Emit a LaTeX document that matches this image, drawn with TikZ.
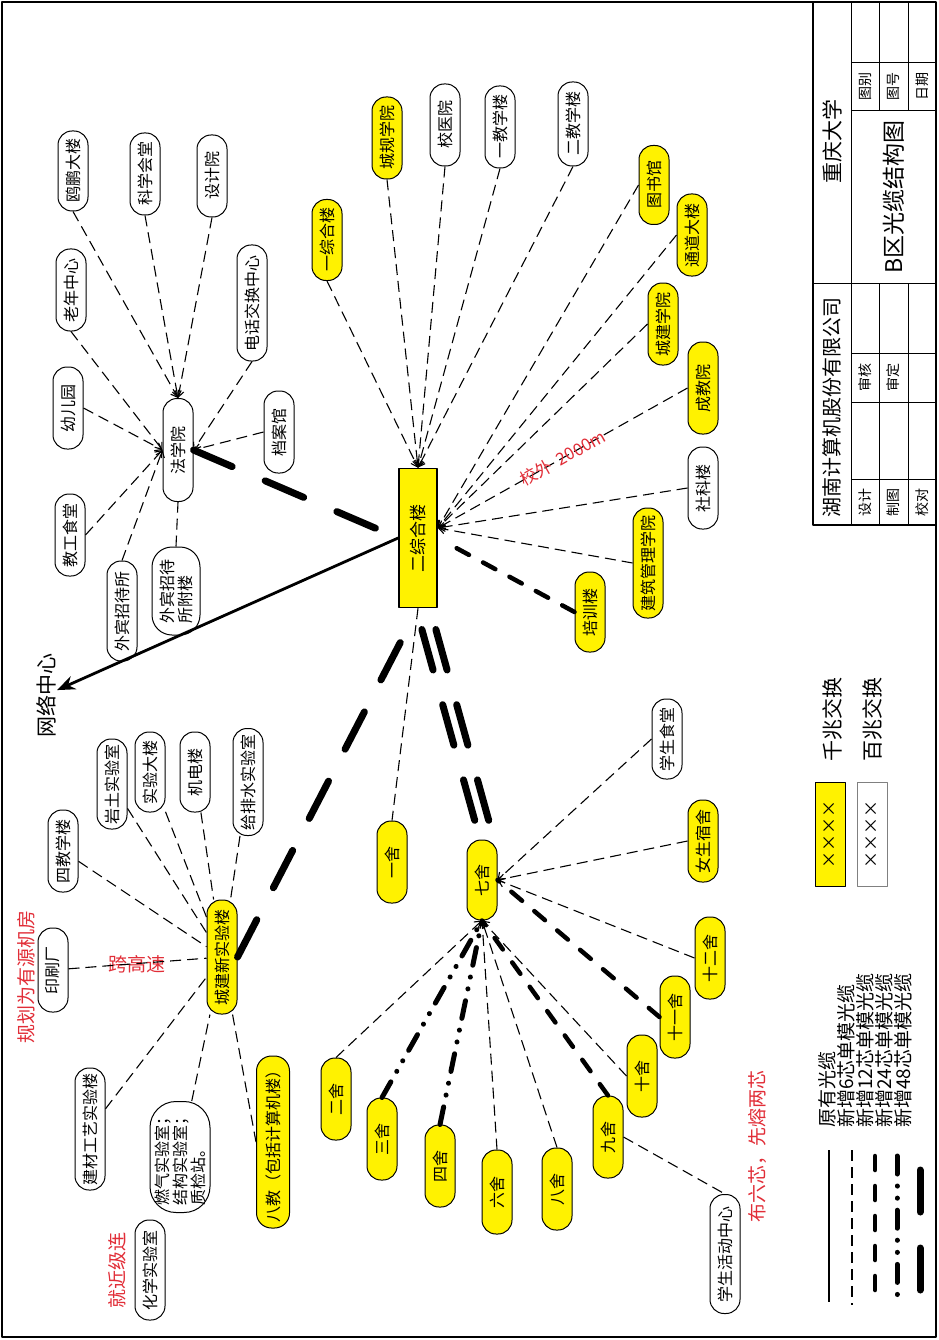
\documentclass[tikz,border=0pt]{standalone}
\usepackage{fontspec}
\newfontfamily\cjk{Noto Sans CJK SC}
\usetikzlibrary{arrows.meta}
\definecolor{notered}{RGB}{225,45,55}
\tikzset{
  bld/.style={draw,rectangle,rounded corners=14pt,rotate=90,fill=white,line width=1pt,
    minimum width=82pt,minimum height=30pt,inner sep=1pt,
    font=\cjk\fontsize{16}{18}\selectfont},
  ybld/.style={bld,fill=yellow},
  txt/.style={rotate=90,inner sep=1pt,font=\cjk\fontsize{21}{23}\selectfont},
  rtxt/.style={txt,text=notered,font=\cjk\fontsize{19}{21}\selectfont},
  cell/.style={rotate=90,inner sep=0pt,font=\cjk\fontsize{14}{16}\selectfont},
  lgd/.style={rotate=90,inner sep=0pt,anchor=west,font=\cjk\fontsize{19}{21}\selectfont},
  c0/.style={line width=2.8pt},
  c6/.style={line width=1.1pt,dash pattern=on 11pt off 6pt},
  c12/.style={line width=4.5pt,line cap=round,dash pattern=on 14pt off 16pt},
  c24/.style={line width=5pt,line cap=round,dash pattern=on 18pt off 12pt on 0.1pt off 12pt on 0.1pt off 12pt},
  c48/.style={line width=7pt,line cap=round,dash pattern=on 42pt off 36pt},
  arw/.style={-{Straight Barb[length=6pt,width=9pt]}},
}
\begin{document}
\begin{tikzpicture}[x=1pt,y=-1pt,>={Stealth[length=18pt,width=14pt]},line join=round]
\useasboundingbox (0,0) rectangle (938,1340);
\draw[line width=1.8pt] (2,2) rectangle (936,1337);

% title block
\draw[line width=1.2pt] (813,2) -- (813,525) -- (936,525);
\draw[line width=1pt] (851,2) -- (851,525);
\draw[line width=1pt] (879,2) -- (879,111) (908,2) -- (908,111);
\draw[line width=1pt] (879,283) -- (879,525) (908,283) -- (908,525);
\draw[line width=1pt] (851,63) -- (936,63) (851,111) -- (936,111);
\draw[line width=1pt] (813,283) -- (936,283);
\draw[line width=1pt] (851,353) -- (936,353) (851,402) -- (936,402) (851,479) -- (936,479);
\node[txt] (cqu) at (832,142) {重庆大学};
\node[txt,font=\cjk\fontsize{20}{22}\selectfont] (hunan) at (832,407) {湖南计算机股份有限公司};
\node[txt,font=\cjk\fontsize{23}{25}\selectfont] (tuming) at (894,197) {B区光缆结构图};
\node[cell] (tubie) at (865,87) {图别};
\node[cell] (tuhao) at (893,87) {图号};
\node[cell] (riqi) at (922,87) {日期};
\node[cell] (shenhe) at (865,377) {审核};
\node[cell] (shending) at (893,377) {审定};
\node[cell] (sheji2) at (865,502) {设计};
\node[cell] (zhitu) at (893,502) {制图};
\node[cell] (jiaodui) at (922,502) {校对};

% faxue group
\node[bld,minimum width=80pt] (oupeng) at (73,171) {鸥鹏大楼};
\node[bld] (kexue) at (145,174) {科学会堂};
\node[bld] (sheji) at (212,176) {设计院};
\node[bld] (laonian) at (71,290) {老年中心};
\node[bld,minimum width=116pt] (dianhua) at (252,303) {电话交换中心};
\node[bld] (youer) at (68,408) {幼儿园};
\node[bld,minimum width=103pt] (faxue) at (178,450) {法学院};
\node[bld] (dangan) at (279,432) {档案馆};
\node[bld] (jiaogong) at (70,535) {教工食堂};
\node[bld,minimum width=100pt] (waibin) at (122,611) {外宾招待所};
\node[bld,minimum width=88pt,minimum height=48pt,rounded corners=20pt,align=left] (waibinfu) at (176,591) {外宾招待\\所附楼};

% erzonghe group
\node[ybld,minimum width=81pt] (yizonghe) at (327,240) {一综合楼};
\node[ybld] (chenggui) at (387,138) {城规学院};
\node[bld] (xiaoyi) at (445,125) {校医院};
\node[bld] (yijiao) at (500,127) {一教学楼};
\node[bld,minimum width=84pt] (erjiao) at (573,124) {二教学楼};
\node[ybld,minimum width=79pt] (tushu) at (654,185) {图书馆};
\node[ybld] (tongdao) at (692,235) {通道大楼};
\node[ybld] (chengjian) at (663,324) {城建学院};
\node[ybld,minimum width=92pt] (chengjiao) at (703,388) {成教院};
\node[bld] (sheke) at (703,488) {社科楼};
\node[ybld,minimum width=110pt] (jianguan) at (648,563) {建筑管理学院};
\node[ybld,minimum width=80pt] (peixun) at (590,612) {培训楼};
\node[draw,rectangle,rotate=90,fill=yellow,line width=1.6pt,minimum width=139pt,minimum height=38pt,
  font=\cjk\fontsize{17}{19}\selectfont] (erzonghe) at (418,538) {二综合楼};
\coordinate (erR) at ([yshift=10pt]erzonghe.south);

% cjsy group
\node[bld,minimum width=90pt] (yantu) at (112,784) {岩土实验室};
\node[bld,minimum width=80pt] (shiyan) at (150,772) {实验大楼};
\node[bld,minimum width=80pt] (jidian) at (195,772) {机电楼};
\node[bld,minimum width=107pt] (geipai) at (248,782) {给排水实验室};
\node[bld] (sijiao) at (63,851) {四教学楼};
\node[ybld,minimum width=114pt] (cjsy) at (222,957) {城建新实验楼};
\node[bld,minimum width=84pt] (yinshua) at (53,970) {印刷厂};
\node[bld,minimum width=122pt] (jiancai) at (90,1129) {建材工艺实验楼};
\node[bld,minimum width=111pt,minimum height=60pt,rounded corners=26pt,align=left] (ranqi) at (180,1157) {燃气实验室；\\结构实验室；\\质检站。};
\node[ybld,minimum width=172pt,minimum height=33pt,rounded corners=15pt] (bajiao) at (273,1142) {八教（包括计算机楼）};
\node[bld,minimum width=100pt] (huaxue) at (150,1270) {化学实验室};

% qishe group
\node[ybld] (yishe) at (392,862) {一舍};
\node[ybld,minimum width=80pt] (qishe) at (482,880) {七舍};
\node[bld,minimum width=80pt] (xsst) at (667,739) {学生食堂};
\node[ybld] (nvsu) at (703,841) {女生宿舍};
\node[ybld] (shier) at (710,958) {十二舍};
\node[ybld] (shiyi) at (675,1017) {十一舍};
\node[ybld] (shishe) at (642,1076) {十舍};
\node[ybld] (ershe) at (336,1099) {二舍};
\node[ybld] (sanshe) at (382,1139) {三舍};
\node[ybld] (sishe) at (440,1166) {四舍};
\node[ybld,minimum width=84pt] (liushe) at (497,1192) {六舍};
\node[ybld] (bashe) at (557,1189) {八舍};
\node[ybld] (jiushe) at (608,1137) {九舍};
\node[bld,minimum width=119pt] (xshd) at (725,1254) {学生活动中心};

% notes
\node[txt] (wlzx) at (46,695) {网络中心};
\node[rtxt] (guihua) at (26,977) {规划为有源机房};
\node[text=notered,inner sep=0pt,font=\cjk\fontsize{19}{21}\selectfont] (kuagaosu) at (137,964) {跨高速};
\node[rtxt] (jiujin) at (117,1270) {就近级连};
\node[rtxt] (buliu) at (757,1146) {布六芯，先熔两芯};

% links to faxue
\draw[c6,arw] (oupeng.west) -- (faxue.east);
\draw[c6,arw] (kexue.west) -- (faxue.east);
\draw[c6,arw] (sheji.west) -- (faxue.east);
\draw[c6,arw] (laonian.west) -- (faxue.north);
\draw[c6,arw] (youer.south) -- (faxue.north);
\draw[c6,arw] (jiaogong.south) -- (faxue.north);
\draw[c6,arw] (waibin.east) -- (faxue.north);
\draw[c6] (waibinfu.east) -- (faxue.west);
\draw[c6,arw] (dianhua.west) -- (faxue.south);
\draw[c6,arw] (dangan.north) -- (faxue.south);

% links to erzonghe
\draw[c6,arw] (yizonghe.west) -- (erzonghe.east);
\draw[c6,arw] (chenggui.west) -- (erzonghe.east);
\draw[c6,arw] (xiaoyi.west) -- (erzonghe.east);
\draw[c6,arw] (yijiao.west) -- (erzonghe.east);
\draw[c6,arw] (erjiao.west) -- (erzonghe.east);
\draw[c6,arw] (tushu.north) -- (erR);
\draw[c6,arw] (tongdao.north) -- (erR);
\draw[c6,arw] (chengjian.north) -- (erR);
\draw[c6,arw] (chengjiao.north) -- node[pos=0.5,sloped,text=notered,inner sep=1pt,
  font=\cjk\fontsize{17}{19}\selectfont] (xiaowai) {校外\ \ 2000m} (erR);
\draw[c6,arw] (sheke.north) -- (erR);
\draw[c6,arw] (jianguan.north) -- (erR);
\draw[c12,shorten >=14pt] (peixun.north) -- (erzonghe.south);

% backbone
\draw[c0,->] (erzonghe.north) -- (wlzx);
\draw[c48] (faxue.south) -- (erzonghe.north);
\draw[c48,shorten >=16pt] (cjsy.south) -- (erzonghe.west);
\draw[c48,shorten <=22pt] ([xshift=-2pt]erzonghe.west) -- ([xshift=-2pt]qishe.east);
\draw[c48,shorten <=22pt] ([xshift=12pt]erzonghe.west) -- ([xshift=12pt]qishe.east);
\draw[c6] (erzonghe.west) -- (yishe.east);

% links to cjsy
\draw[c6] (yantu) -- (cjsy);
\draw[c6] (shiyan) -- (cjsy);
\draw[c6] (jidian) -- (cjsy);
\draw[c6] (geipai) -- (cjsy);
\draw[c6] (sijiao) -- (cjsy);
\draw[c6] (yinshua) -- (cjsy);
\draw[c6] (jiancai) -- (cjsy);
\draw[c6] (ranqi) -- (cjsy);
\draw[c6] (cjsy) -- (bajiao.north);

% links to qishe
\draw[c6,arw] (xsst.north) -- (qishe.south);
\draw[c6,arw] (nvsu.north) -- (qishe.south);
\draw[c6,arw] (shier.north) -- (qishe.south);
\draw[c12] (shiyi.north) -- (qishe.south);
\draw[c6,arw] (shishe.north) -- (qishe.west);
\draw[c12] (jiushe.east) -- (qishe.west);
\draw[c6,arw] (bashe.east) -- (qishe.west);
\draw[c6,arw] (liushe.east) -- (qishe.west);
\draw[c24] (sishe.east) -- (qishe.west);
\draw[c24] (sanshe.east) -- (qishe.west);
\draw[c6,arw] (ershe.east) -- (qishe.west);
\draw[c6] (jiushe.south) -- (xshd.east);

% legend
\node[txt] (qianzhao) at (832,719) {千兆交换};
\node[txt] (baizhao) at (872,719) {百兆交换};
\node[draw,rectangle,rotate=90,fill=yellow,line width=1pt,minimum width=104pt,minimum height=30pt,
  font=\cjk\fontsize{17}{19}\selectfont] (qzbox) at (830,834) {××××};
\node[draw=gray,rectangle,rotate=90,fill=white,line width=1pt,minimum width=104pt,minimum height=30pt,
  font=\cjk\fontsize{17}{19}\selectfont] (bzbox) at (872,834) {××××};
\node[lgd] (lg1) at (827,1128) {原有光缆};
\node[lgd] (lg2) at (846,1128) {新增6芯单模光缆};
\node[lgd] (lg3) at (865,1128) {新增12芯单模光缆};
\node[lgd] (lg4) at (884,1128) {新增24芯单模光缆};
\node[lgd] (lg5) at (903,1128) {新增48芯单模光缆};
\draw[c0] (829,1150) -- (829,1302);
\draw[c6] (852,1150) -- (852,1305);
\draw[c12] (875,1156) -- (875,1305);
\draw[c24] (897,1156) -- (897,1305);
\draw[c48] (920,1170) -- (920,1305);
\end{tikzpicture}
\end{document}
